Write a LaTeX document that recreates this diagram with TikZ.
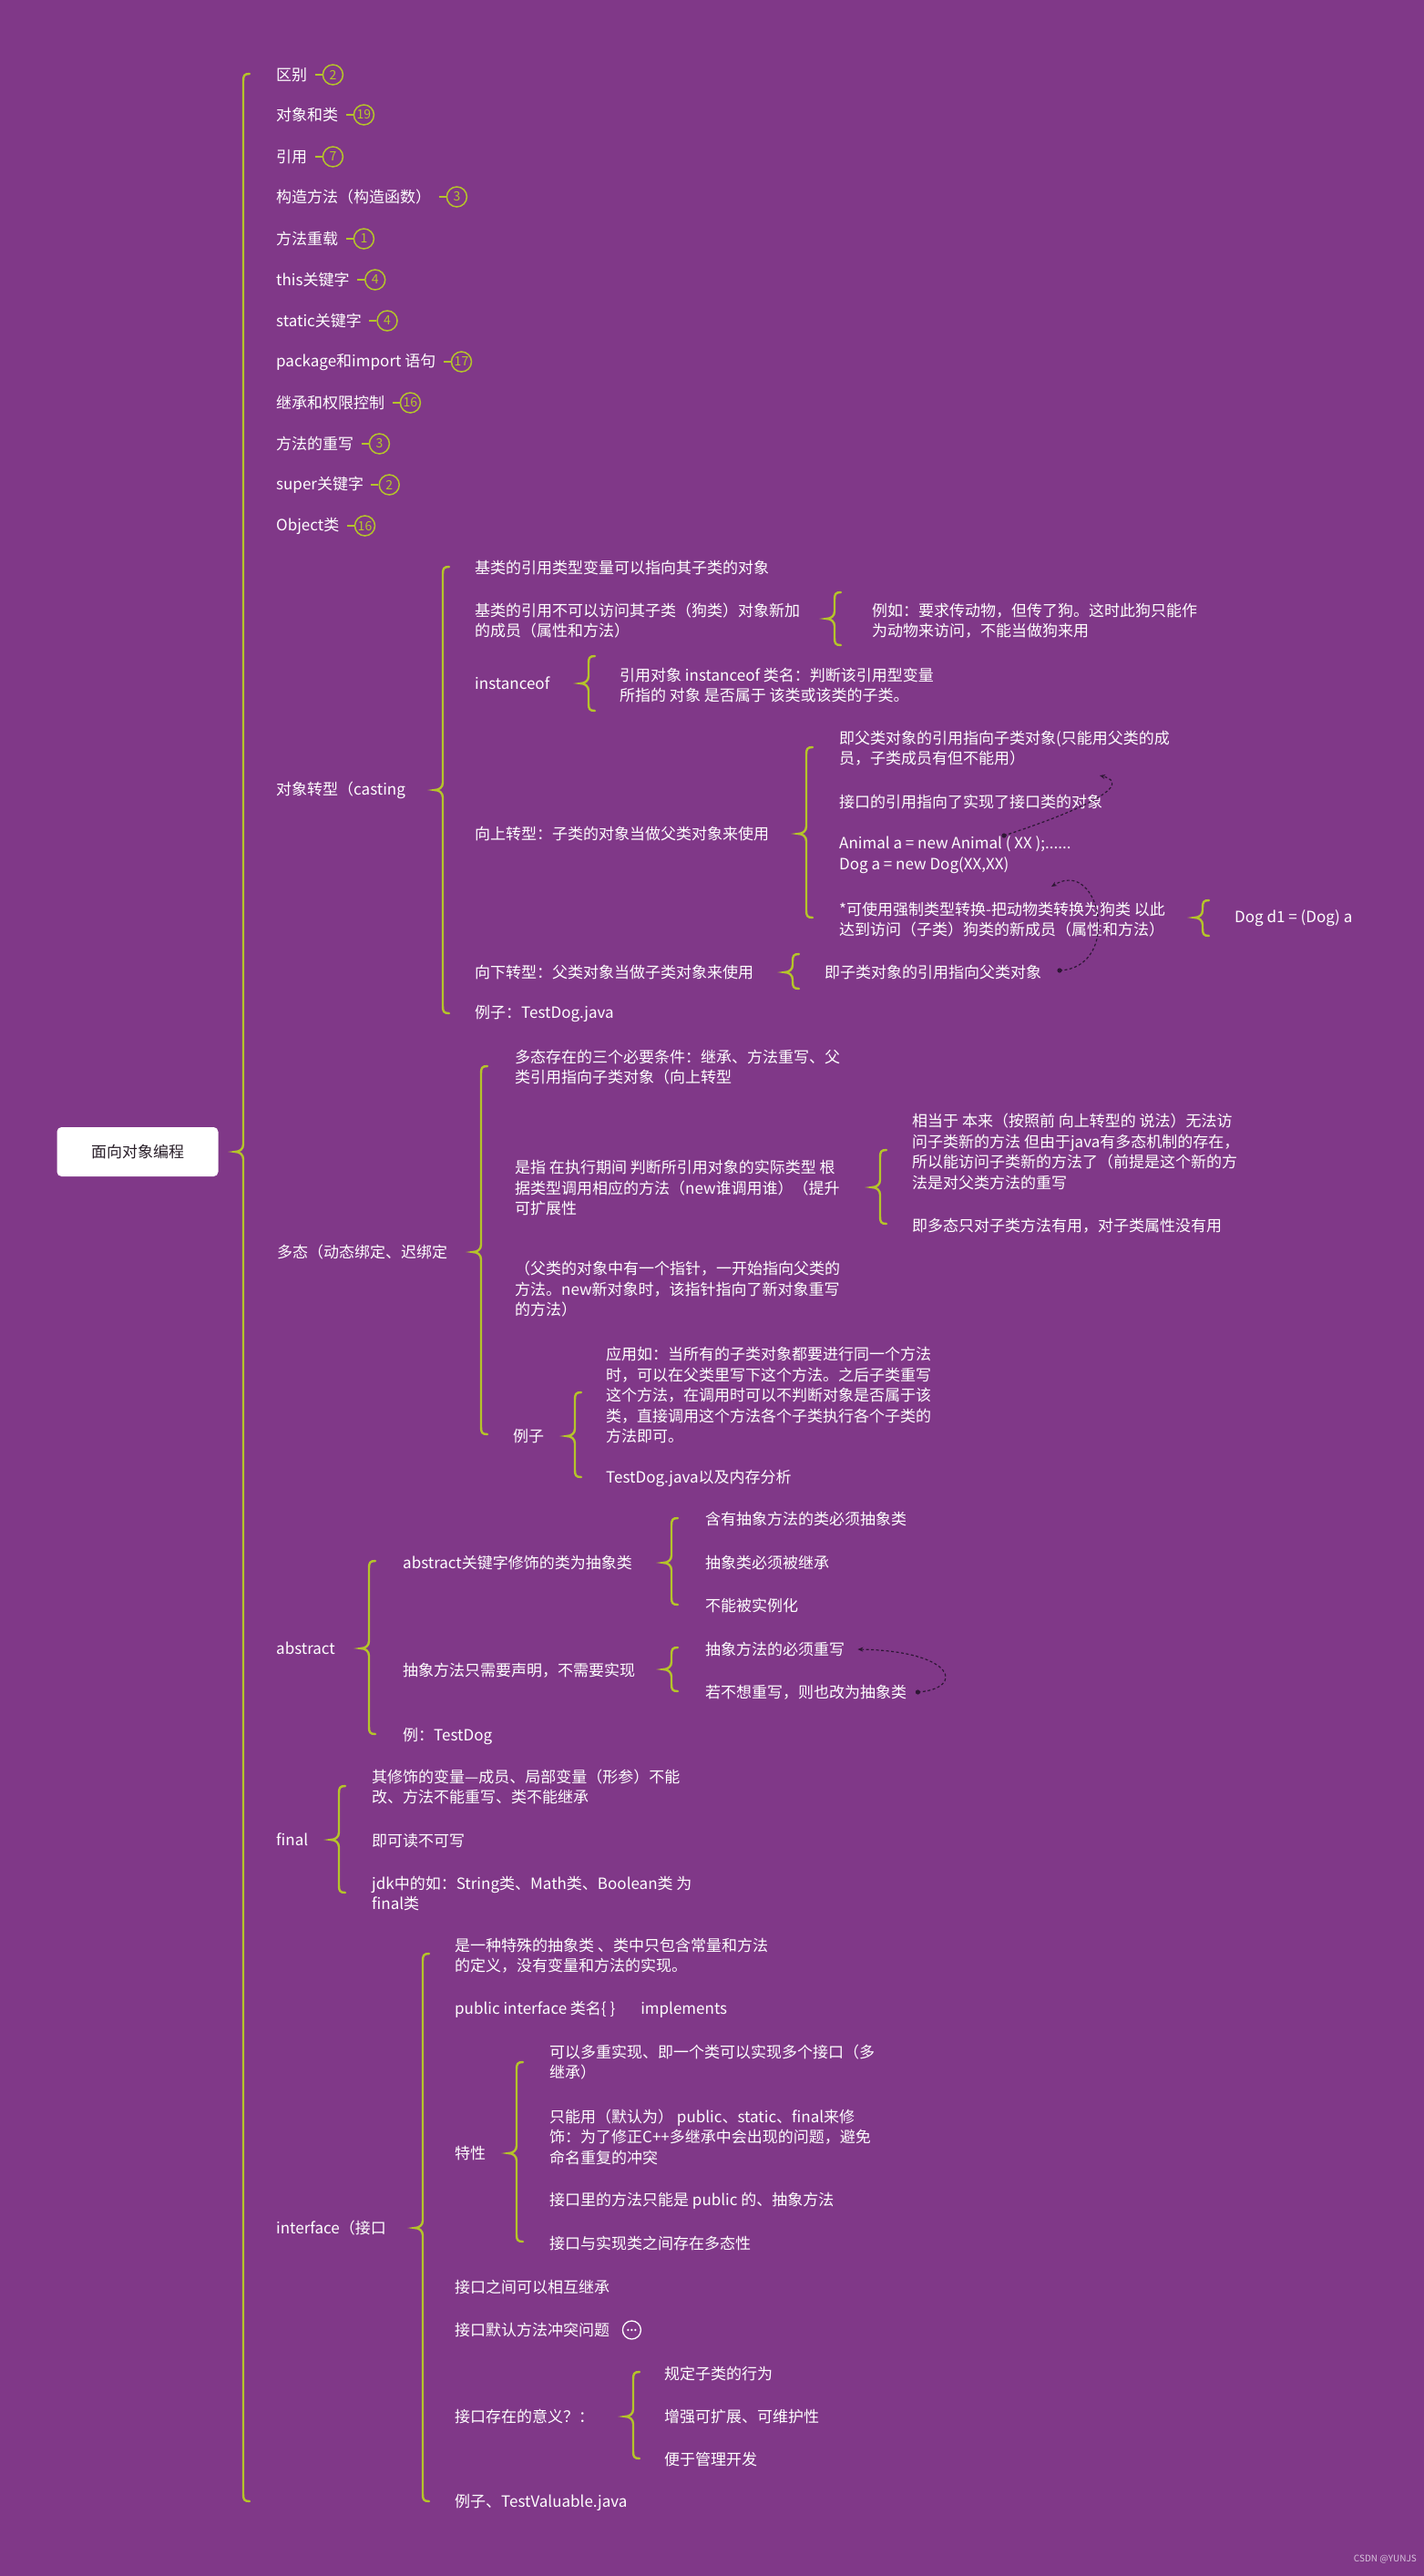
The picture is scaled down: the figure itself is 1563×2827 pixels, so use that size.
\documentclass[tikz,border=0pt]{standalone}
\usepackage{fontspec}
\setmainfont{Noto Sans CJK SC}
\usetikzlibrary{arrows.meta,calc}
\definecolor{bgc}{RGB}{128,56,136}
\definecolor{brc}{RGB}{181,196,42}
\definecolor{dk}{RGB}{45,22,52}
\newcommand\mybrace[4]{%
 \draw[bracel] ({#1+7},#2) .. controls ({#1+1},#2) and (#1,{#2+2}) .. (#1,{#2+8}) -- (#1,{#3-8}) .. controls (#1,{#3-3}) and ({#1-4},#3) .. ({#1-9},#3) .. controls ({#1-4},#3) and (#1,{#3+3}) .. (#1,{#3+8}) -- (#1,{#4-8}) .. controls (#1,{#4-2}) and ({#1+1},#4) .. ({#1+7},#4);}
\newcommand\mybadge[3]{\node[badge] (#1) at ([xshift=28pt]#2.east) {#3}; \draw[badgeline] ([xshift=-8pt]#1.west) -- (#1.west);}
\tikzset{
 txt/.style={anchor=west, inner sep=0pt, text=white, align=left, font=\fontsize{17}{22.5}\selectfont},
 bracel/.style={draw=brc, line width=2.4pt, line cap=round},
 badge/.style={circle, draw=brc, line width=1.5pt, inner sep=0pt, minimum size=22pt, text=brc, font=\fontsize{14}{14}\selectfont},
 badgeline/.style={draw=brc, line width=2.8pt},
 rootbox/.style={fill=white, rounded corners=5pt, minimum width=177pt, minimum height=54pt, inner sep=0pt, text={rgb,255:red,40;green,30;blue,40}, font=\fontsize{17}{20}\selectfont},
 darr/.style={draw=dk, dash pattern=on 3pt off 2.5pt, line width=1.2pt, -{Stealth[length=6pt,width=5pt]}},
}
\begin{document}
\begin{tikzpicture}[x=1pt,y=-1pt]
\fill[bgc] (0,0) rectangle (1563,2827);
\useasboundingbox (0,0) rectangle (1563,2827);

% root
\node[rootbox] (root) at (151,1264) {面向对象编程};
\mybrace{267}{81}{1264}{2745}

% level 1 simple items
\node[txt] (l1) at (303,82) {区别};
\node[txt] (l2) at (303,126) {对象和类};
\node[txt] (l3) at (303,172) {引用};
\node[txt] (l4) at (303,216) {构造方法（构造函数）};
\node[txt] (l5) at (303,262) {方法重载};
\node[txt] (l6) at (303,307) {this关键字};
\node[txt] (l7) at (303,352) {static关键字};
\node[txt] (l8) at (303,397) {package和import 语句};
\node[txt] (l9) at (303,442) {继承和权限控制};
\node[txt] (l10) at (303,487) {方法的重写};
\node[txt] (l11) at (303,532) {super关键字};
\node[txt] (l12) at (303,577) {Object类};
\mybadge{b1}{l1}{2}
\mybadge{b2}{l2}{19}
\mybadge{b3}{l3}{7}
\mybadge{b4}{l4}{3}
\mybadge{b5}{l5}{1}
\mybadge{b6}{l6}{4}
\mybadge{b7}{l7}{4}
\mybadge{b8}{l8}{17}
\mybadge{b9}{l9}{16}
\mybadge{b10}{l10}{3}
\mybadge{b11}{l11}{2}
\mybadge{b12}{l12}{16}

% casting
\node[txt] (cast) at (303,867) {对象转型（casting};
\mybrace{486}{622}{867}{1112}
\node[txt] (c1) at (521,623) {基类的引用类型变量可以指向其子类的对象};
\node[txt] (c2) at (521,681) {基类的引用不可以访问其子类（狗类）对象新加\\的成员（属性和方法）};
\mybrace{916}{650}{679}{708}
\node[txt] (c2a) at (957,681) {例如：要求传动物，但传了狗。这时此狗只能作\\为动物来访问，不能当做狗来用};
\node[txt] (c3) at (521,750) {instanceof};
\mybrace{646}{720}{750}{780}
\node[txt] (c3a) at (680,752) {引用对象 instanceof 类名：判断该引用型变量\\所指的 对象 是否属于 该类或该类的子类。};
\node[txt] (c4) at (521,915) {向上转型：子类的对象当做父类对象来使用};
\mybrace{885}{820}{915}{1007}
\node[txt] (c4a) at (921,821) {即父类对象的引用指向子类对象(只能用父类的成\\员，子类成员有但不能用）};
\node[txt] (c4b) at (921,880) {接口的引用指向了实现了接口类的对象};
\node[txt] (c4c) at (921,938) {Animal a = new Animal ( XX );......\\Dog a = new Dog(XX,XX)};
\node[txt] (c4d) at (921,1009) {*可使用强制类型转换-把动物类转换为狗类 以此\\达到访问（子类）狗类的新成员（属性和方法）};
\mybrace{1320}{988}{1007}{1027}
\node[txt] (c4d1) at (1355,1008) {Dog d1 = (Dog) a};
\node[txt] (c5) at (521,1067) {向下转型：父类对象当做子类对象来使用};
\mybrace{870}{1047}{1067}{1085}
\node[txt] (c5a) at (905,1067) {即子类对象的引用指向父类对象};
\node[txt] (c6) at (521,1112) {例子：TestDog.java};

% dashed relation arrows (casting)
\coordinate (r1s) at (1102,917);
\coordinate (r1e) at (1207,851);
\fill[dk] (r1s) circle (2.6pt);
\draw[darr] (r1s) .. controls (1200,885) and (1242,860) .. (r1e);
\coordinate (r2s) at (1163,1065);
\coordinate (r2e) at (1154,973);
\fill[dk] (r2s) circle (2.6pt);
\draw[darr] (r2s) .. controls (1232,1062) and (1208,940) .. (r2e);

% polymorphism
\node[txt] (poly) at (304,1374) {多态（动态绑定、迟绑定};
\mybrace{528}{1170}{1374}{1574}
\node[txt] (p1) at (565,1171) {多态存在的三个必要条件：继承、方法重写、父\\类引用指向子类对象（向上转型};
\node[txt] (p2) at (565,1304) {是指 在执行期间 判断所引用对象的实际类型 根\\据类型调用相应的方法（new谁调用谁）（提升\\可扩展性};
\mybrace{966}{1262}{1303}{1343}
\node[txt] (p2a) at (1001,1264) {相当于 本来（按照前 向上转型的 说法）无法访\\问子类新的方法 但由于java有多态机制的存在，\\所以能访问子类新的方法了（前提是这个新的方\\法是对父类方法的重写};
\node[txt] (p2b) at (1001,1345) {即多态只对子类方法有用，对子类属性没有用};
\node[txt] (p3) at (565,1415) {（父类的对象中有一个指针，一开始指向父类的\\方法。new新对象时，该指针指向了新对象重写\\的方法）};
\node[txt] (p4) at (563,1576) {例子};
\mybrace{631}{1528}{1576}{1621}
\node[txt] (p4a) at (665,1531) {应用如：当所有的子类对象都要进行同一个方法\\时，可以在父类里写下这个方法。之后子类重写\\这个方法，在调用时可以不判断对象是否属于该\\类，直接调用这个方法各个子类执行各个子类的\\方法即可。};
\node[txt] (p4b) at (665,1622) {TestDog.java以及内存分析};

% abstract
\node[txt] (abs) at (303,1809) {abstract};
\mybrace{405}{1713}{1809}{1903}
\node[txt] (a1) at (442,1715) {abstract关键字修饰的类为抽象类};
\mybrace{737}{1666}{1715}{1761}
\node[txt] (a1a) at (774,1667) {含有抽象方法的类必须抽象类};
\node[txt] (a1b) at (774,1715) {抽象类必须被继承};
\node[txt] (a1c) at (774,1762) {不能被实例化};
\node[txt] (a2) at (442,1833) {抽象方法只需要声明，不需要实现};
\mybrace{737}{1808}{1832}{1856}
\node[txt] (a2a) at (774,1810) {抽象方法的必须重写};
\node[txt] (a2b) at (774,1857) {若不想重写，则也改为抽象类};
\node[txt] (a3) at (442,1905) {例：TestDog};
\coordinate (r3s) at ([xshift=12pt]a2b.east);
\coordinate (r3e) at ([xshift=14pt]a2a.east);
\fill[dk] (r3s) circle (2.6pt);
\draw[darr] (r3s) .. controls ($(r3s)+(52,-4)$) and ($(r3e)+(108,2)$) .. (r3e);

% final
\node[txt] (fin) at (303,2019) {final};
\mybrace{372}{1960}{2019}{2077}
\node[txt] (f1) at (408,1961) {其修饰的变量---成员、局部变量（形参）不能\\改、方法不能重写、类不能继承};
\node[txt] (f2) at (408,2020) {即可读不可写};
\node[txt] (f3) at (408,2078) {jdk中的如：String类、Math类、Boolean类 为\\final类};

% interface
\node[txt] (itf) at (303,2445) {interface（接口};
\mybrace{464}{2144}{2445}{2745}
\node[txt] (i1) at (499,2146) {是一种特殊的抽象类 、类中只包含常量和方法\\的定义，没有变量和方法的实现。};
\node[txt] (i2) at (499,2205) {public interface 类名\{ \}\hspace{28pt}implements};
\node[txt] (i3) at (499,2363) {特性};
\mybrace{567}{2263}{2363}{2460}
\node[txt] (i3a) at (603,2263) {可以多重实现、即一个类可以实现多个接口（多\\继承）};
\node[txt] (i3b) at (603,2345) {只能用（默认为） public、static、final来修\\饰：为了修正C++多继承中会出现的问题，避免\\命名重复的冲突};
\node[txt] (i3c) at (603,2415) {接口里的方法只能是 public 的、抽象方法};
\node[txt] (i3d) at (603,2462) {接口与实现类之间存在多态性};
\node[txt] (i4) at (499,2510) {接口之间可以相互继承};
\node[txt] (i5) at (499,2557) {接口默认方法冲突问题};
\node[circle, draw=white, line width=1.3pt, minimum size=20pt, inner sep=0pt] (i5c) at ([xshift=24pt]i5.east) {};
\foreach \dx in {-4,0,4} {\fill[white] ([xshift=\dx pt]i5c.center) circle (1.3pt);}
\node[txt] (i6) at (499,2652) {接口存在的意义？：};
\mybrace{695}{2603}{2652}{2698}
\node[txt] (i6a) at (729,2605) {规定子类的行为};
\node[txt] (i6b) at (729,2652) {增强可扩展、可维护性};
\node[txt] (i6c) at (729,2699) {便于管理开发};
\node[txt] (i7) at (499,2746) {例子、TestValuable.java};

% watermark
\node[anchor=east, inner sep=0pt, text={rgb,255:red,215;green,195;blue,220}, font=\fontsize{10}{10}\selectfont] (wm) at (1555,2809) {CSDN @YUNJS};
\end{tikzpicture}
\end{document}
